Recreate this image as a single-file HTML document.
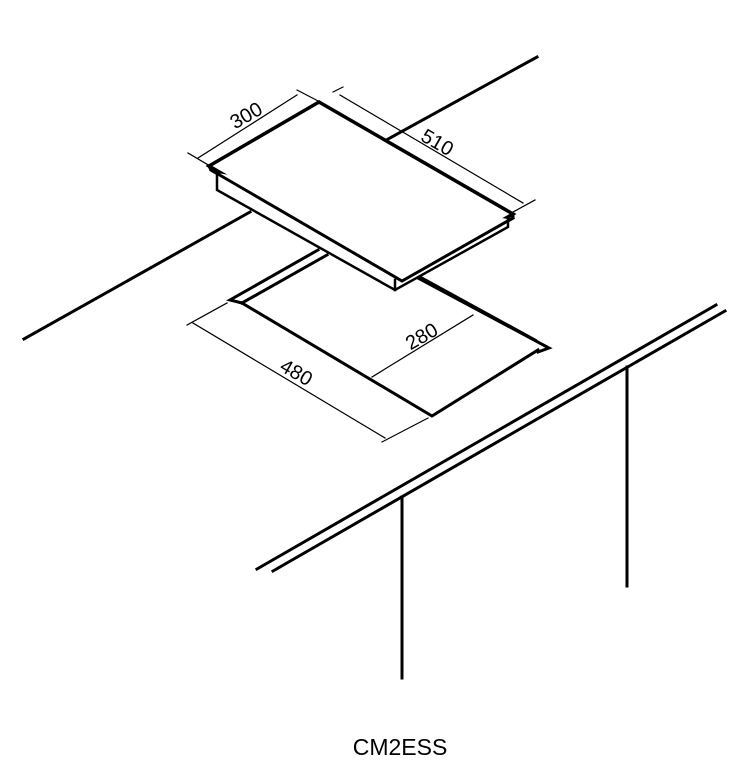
<!DOCTYPE html>
<html><head><style>
html,body{margin:0;padding:0;background:#fff;width:735px;height:766px;overflow:hidden}
svg{display:block}
text{font-family:"Liberation Sans",sans-serif;}
</style></head><body>
<svg width="735" height="766" viewBox="0 0 735 766" xmlns="http://www.w3.org/2000/svg">
<g stroke="#000" fill="none" stroke-linecap="square">
<!-- back counter line -->
<line x1="537" y1="57" x2="350" y2="160" stroke-width="3"/>
<line x1="250" y1="212" x2="24" y2="339" stroke-width="3"/>
<!-- cutout -->
<polyline points="318,250 230,300 242,303" stroke-width="3"/>
<line x1="327" y1="255" x2="242" y2="303" stroke-width="3"/>
<polyline points="242,303 432,416 538,350" stroke-width="3"/>
<polyline points="418,278 549,348 538,352" stroke-width="3"/>
<line x1="421" y1="277" x2="536" y2="340" stroke-width="2"/>
<!-- hob -->
<polygon points="209,166 319,102 513,214 402,278" fill="#fff" stroke-width="3.5"/>
<polyline points="209,166 211,170 402,281 513,218 513,214" stroke-width="3"/>
<polyline points="217,173 217,190 395,290 508,227 508,219" fill="#fff" stroke-width="2.5"/>
<line x1="395" y1="280" x2="395" y2="290" stroke-width="2.5"/>
<polyline points="211,170 402,281 513,218" stroke-width="3"/>
<!-- dims -->
<g stroke-width="1.2">
<line x1="198" y1="158" x2="297" y2="95"/>
<line x1="188" y1="153" x2="210" y2="166"/>
<line x1="297" y1="90" x2="320" y2="102"/>
<line x1="340" y1="95" x2="523" y2="203"/>
<line x1="333" y1="92" x2="343" y2="87"/>
<line x1="513" y1="212" x2="535" y2="200"/>
<line x1="193" y1="323" x2="385" y2="438"/>
<line x1="187" y1="325" x2="227" y2="303"/>
<line x1="382" y1="442" x2="428" y2="418"/>
<line x1="372" y1="377" x2="473" y2="315"/>
</g>
<!-- front counter -->
<line x1="257" y1="569" x2="716" y2="305" stroke-width="3"/>
<line x1="273" y1="571" x2="725" y2="311" stroke-width="3"/>
<line x1="402" y1="497" x2="402" y2="678" stroke-width="3"/>
<line x1="627" y1="367" x2="627" y2="586" stroke-width="3"/>
</g>
<g fill="#000" font-size="20">
<text x="247" y="122" text-anchor="middle" transform="rotate(-30 247 117)">300</text>
<text x="437" y="149" text-anchor="middle" transform="rotate(30 437 143)">510</text>
<text x="296" y="379" text-anchor="middle" transform="rotate(30 296 373)">480</text>
<text x="422" y="343" text-anchor="middle" transform="rotate(-30 422 337)">280</text>
</g>
<text x="400" y="755" text-anchor="middle" font-size="23" fill="#000">CM2ESS</text>
</svg>
</body></html>
